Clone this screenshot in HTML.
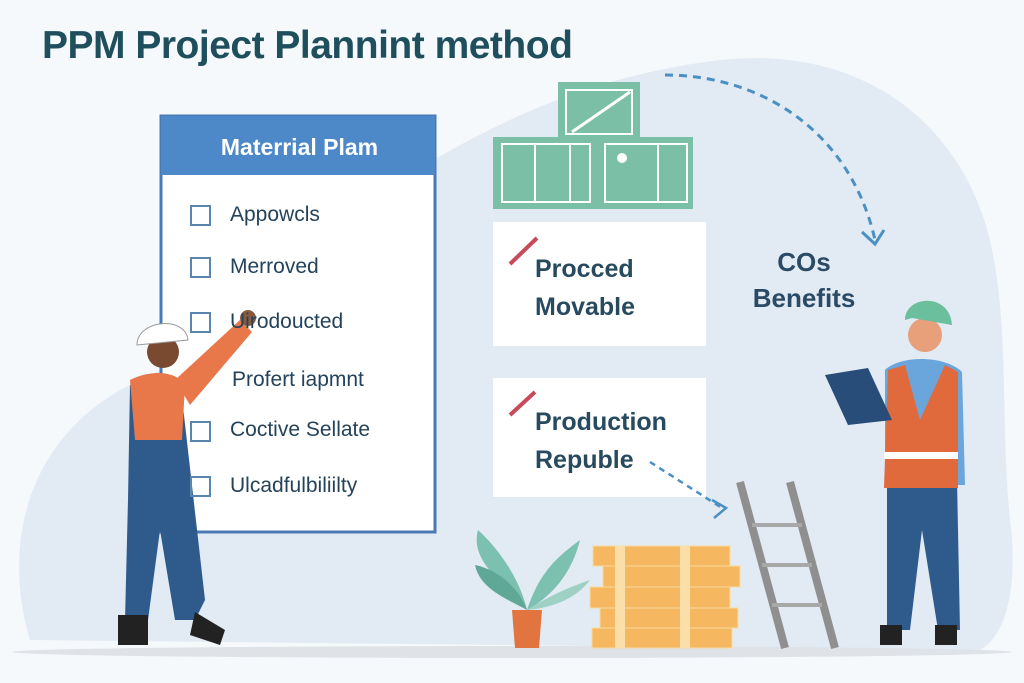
<!DOCTYPE html>
<html><head><style>
body{margin:0;width:1024px;height:683px;overflow:hidden;background:#f6f9fc;font-family:"Liberation Sans",sans-serif;position:relative}
.a{position:absolute}
.t{color:#24435a;font-size:21px}
.cb{position:absolute;width:17px;height:17px;border:2px solid #5a86ad;left:190px}
.b{font-weight:bold;color:#284a5e}
</style></head><body>
<svg class="a" style="left:0;top:0" width="1024" height="683">
<path d="M30 640 C0 540 30 430 140 380 C250 330 300 240 380 190 C470 140 560 80 720 60 C860 45 960 120 990 240 C1010 330 1000 420 1010 520 C1020 600 1000 640 980 650 Z" fill="#e2eaf3"/>
<ellipse cx="512" cy="652" rx="500" ry="6" fill="#dfe3e8"/>
<path d="M665 75 C760 75 850 130 875 240" fill="none" stroke="#4a90c4" stroke-width="3" stroke-dasharray="8 6"/>
<path d="M862 232 L875 244 L884 230" fill="none" stroke="#4a90c4" stroke-width="3"/>
<!-- green boxes -->
<rect x="558" y="82" width="82" height="55" fill="#7bbfa7"/>
<rect x="566" y="90" width="66" height="44" fill="none" stroke="#fff" stroke-width="2"/>
<line x1="572" y1="132" x2="630" y2="92" stroke="#fff" stroke-width="3"/>
<rect x="493" y="137" width="200" height="72" fill="#7bbfa7"/>
<rect x="502" y="144" width="88" height="58" fill="none" stroke="#fff" stroke-width="2"/>
<line x1="535" y1="144" x2="535" y2="202" stroke="#fff" stroke-width="2"/><line x1="570" y1="144" x2="570" y2="202" stroke="#fff" stroke-width="2"/>
<rect x="605" y="144" width="82" height="58" fill="none" stroke="#fff" stroke-width="2"/>
<line x1="658" y1="144" x2="658" y2="202" stroke="#fff" stroke-width="2"/>
<circle cx="622" cy="158" r="5" fill="#fff"/>
<!-- cards -->
<rect x="493" y="222" width="213" height="124" fill="#fff"/>
<rect x="493" y="378" width="213" height="119" fill="#fff"/>
<line x1="510" y1="264" x2="537" y2="238" stroke="#c84a5a" stroke-width="4"/>
<line x1="510" y1="415" x2="535" y2="392" stroke="#c84a5a" stroke-width="4"/>
<path d="M650 462 L722 508" fill="none" stroke="#4a90c4" stroke-width="2.5" stroke-dasharray="6 5"/>
<path d="M712 500 L726 508 L714 518" fill="none" stroke="#4a90c4" stroke-width="2.5"/>
<!-- panel -->
<rect x="161" y="116" width="274" height="416" fill="#fff" stroke="#4a7ab5" stroke-width="3"/>
<rect x="161" y="116" width="274" height="59" fill="#4d88c8"/>
<!-- boxes stack -->
<g fill="#f5b860" stroke="#f8d9a0" stroke-width="1">
<rect x="593" y="546" width="137" height="20"/><rect x="603" y="566" width="137" height="21"/><rect x="590" y="587" width="140" height="21"/><rect x="600" y="608" width="138" height="20"/><rect x="592" y="628" width="140" height="20"/></g>
<g fill="#fbdfa8"><rect x="615" y="546" width="10" height="102"/><rect x="680" y="546" width="10" height="102"/></g>
<!-- ladder -->
<line x1="740" y1="482" x2="785" y2="648" stroke="#8f8f8f" stroke-width="8"/>
<line x1="790" y1="482" x2="835" y2="648" stroke="#8f8f8f" stroke-width="8"/>
<g stroke="#a8a8a8" stroke-width="4"><line x1="752" y1="525" x2="802" y2="525"/><line x1="762" y1="565" x2="812" y2="565"/><line x1="772" y1="605" x2="822" y2="605"/></g>
<!-- plant -->
<path d="M512 610 h30 l-3 38 h-24z" fill="#e2743f"/>
<g fill="#7cc0b0"><path d="M527 610 C500 580 470 560 478 530 C500 550 520 580 527 610Z"/><path d="M527 610 C540 570 560 555 580 540 C570 580 545 600 527 610Z"/><path d="M527 610 C510 600 480 590 475 565 C500 570 520 590 527 610Z" fill="#5fa898"/><path d="M527 610 C550 595 575 585 590 580 C575 600 550 608 527 610Z" fill="#9fd0c4"/></g>
<!-- left worker -->
<path d="M130 385 L180 380 L205 600 L195 620 L175 620 L160 530 L148 620 L125 620 L128 500Z" fill="#2f5b8c"/>
<path d="M130 380 C150 370 175 370 185 385 L182 440 L135 440Z" fill="#e8774a"/>
<path d="M175 380 L240 320 L252 332 L190 405Z" fill="#e8774a"/>
<circle cx="248" cy="318" r="8" fill="#8a5a3e"/>
<circle cx="163" cy="352" r="16" fill="#7a4a30"/>
<path d="M137 345 C137 320 185 315 188 340 Z" fill="#fff" stroke="#999"/>
<rect x="118" y="615" width="30" height="30" fill="#222"/><path d="M195 612 L225 630 L220 645 L190 635Z" fill="#222"/>
<!-- right worker -->
<path d="M887 480 L957 480 L960 630 L938 630 L922 530 L910 630 L887 630Z" fill="#2f5b8c"/>
<path d="M885 370 C900 355 945 355 962 372 L965 485 L885 485Z" fill="#6aa6dc"/>
<path d="M888 370 L905 365 L920 420 L945 365 L958 372 L958 488 L884 488Z" fill="#e06a3c"/>
<rect x="884" y="452" width="74" height="7" fill="#fff"/>
<circle cx="925" cy="335" r="17" fill="#e8a07a"/>
<path d="M905 320 C905 295 950 292 952 325 L912 318Z" fill="#6bbf9d"/>
<path d="M825 375 L868 368 L892 420 L848 425Z" fill="#274d78"/>
<rect x="880" y="625" width="22" height="20" fill="#222"/><rect x="935" y="625" width="22" height="20" fill="#222"/>
</svg>
<div class="a b" style="left:42px;top:24px;font-size:39px;letter-spacing:-0.5px;color:#1f4f5d">PPM Project Plannint method</div>
<div class="a" style="left:161px;top:134px;width:277px;text-align:center;color:#fff;font-weight:bold;font-size:23px">Materrial Plam</div>
<div class="cb" style="top:205px"></div><div class="a t" style="left:230px;top:203px">Appowcls</div>
<div class="cb" style="top:257px"></div><div class="a t" style="left:230px;top:255px">Merroved</div>
<div class="cb" style="top:312px"></div><div class="a t" style="left:230px;top:310px">Uirodoucted</div>
<div class="a t" style="left:232px;top:368px">Profert iapmnt</div>
<div class="cb" style="top:421px"></div><div class="a t" style="left:230px;top:418px">Coctive Sellate</div>
<div class="cb" style="top:476px"></div><div class="a t" style="left:230px;top:474px">Ulcadfulbiliilty</div>
<div class="a b" style="left:535px;top:250px;font-size:25px;line-height:38px">Procced<br>Movable</div>
<div class="a b" style="left:535px;top:403px;font-size:25px;line-height:38px">Production<br>Republe</div>
<div class="a b" style="left:740px;top:244px;width:128px;text-align:center;font-size:26px;line-height:36px;color:#2a4a66">COs<br>Benefits</div>
</body></html>
